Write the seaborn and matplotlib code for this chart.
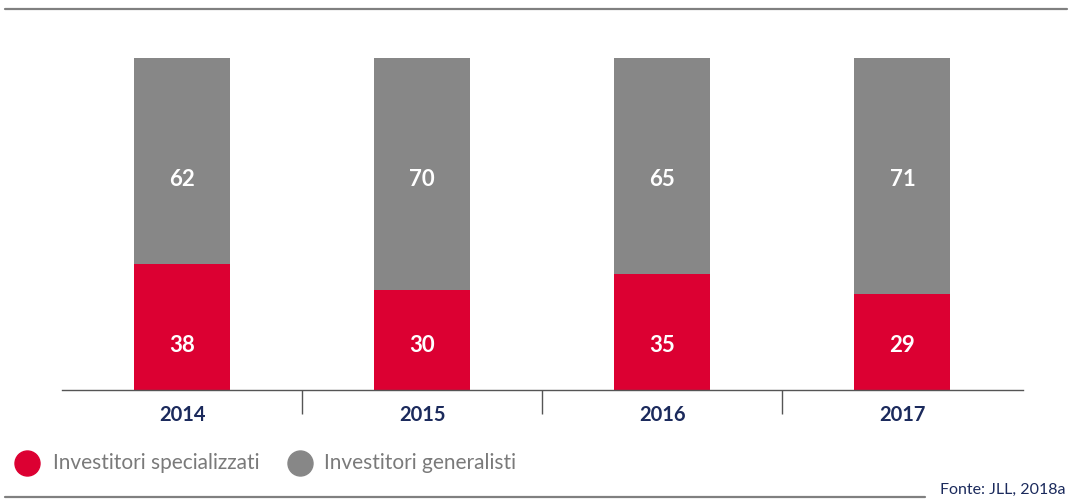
import pandas as pd
import matplotlib.pyplot as plt
import seaborn as sns
from matplotlib.lines import Line2D

# values (percent)
years = ['2014', '2015', '2016', '2017']
specializzati = [38, 30, 35, 29]
generalisti = [62, 70, 65, 71]
legend_labels = ['Investitori specializzati', 'Investitori generalisti']

RED = '#DC0032'
GREY = '#878787'
NAVY = '#1B2A5C'
LABEL_GREY = '#7A7A7A'

df = pd.DataFrame({'anno': years, 'spec': specializzati, 'gen': generalisti})
df['totale'] = df['spec'] + df['gen']

sns.set_theme(style='white')
plt.rcParams['font.family'] = ['Lato', 'DejaVu Sans']

fig = plt.figure(figsize=(10.71, 4.99), dpi=100)
ax = fig.add_axes([62 / 1071, 1 - 390 / 499, 960.5 / 1071, 332 / 499])

# stacked bars: grey total behind, red share on top
sns.barplot(data=df, x='anno', y='totale', color=GREY, width=0.4, saturation=1,
            linewidth=0, ax=ax)
sns.barplot(data=df, x='anno', y='spec', color=RED, width=0.4, saturation=1,
            linewidth=0, ax=ax)

ax.set_xlim(-0.5, 3.5)
ax.set_ylim(0, 100)
ax.set_xlabel('')
ax.set_ylabel('')
ax.set_yticks([])

for s in ['top', 'right', 'left']:
    ax.spines[s].set_visible(False)
ax.spines['bottom'].set_color('#555555')
ax.spines['bottom'].set_linewidth(1)

# separators between years as minor ticks
ax.set_xticks([0.5, 1.5, 2.5], minor=True)
ax.tick_params(axis='x', which='minor', length=17, width=1, color='#555555', direction='out', bottom=True)
ax.tick_params(axis='x', which='major', length=0, pad=11, labelsize=14.5, labelcolor=NAVY)
for t in ax.get_xticklabels():
    t.set_fontweight('bold')

# value labels (fixed heights like the original)
for i, row in df.iterrows():
    ax.text(i, 63.3, str(row['gen']), ha='center', va='center', color='white',
            fontsize=16, fontweight='bold')
    ax.text(i, 13.3, str(row['spec']), ha='center', va='center', color='white',
            fontsize=16, fontweight='bold')

# top and bottom rules
fig.add_artist(Line2D([5 / 1071, 1067 / 1071], [1 - 9 / 499] * 2, color='#808080', lw=1.6))
fig.add_artist(Line2D([5 / 1071, 925 / 1071], [1 - 497 / 499] * 2, color='#808080', lw=1.6))

# legend, placed by hand
leg_y = 1 - 463 / 499
for cx, tx, col, lab in zip([27, 300], [53, 324], [RED, GREY], legend_labels):
    fig.add_artist(Line2D([cx / 1071], [leg_y], marker='o', ls='', markersize=18,
                          markerfacecolor=col, markeredgecolor=col))
    fig.text(tx / 1071, leg_y, lab, ha='left', va='center', color=LABEL_GREY, fontsize=15)

fig.text(1066 / 1071, 1 - 490 / 499, 'Fonte: JLL, 2018a', ha='right', va='center',
         color=NAVY, fontsize=11.5)

fig.savefig('out.png', dpi=100)
